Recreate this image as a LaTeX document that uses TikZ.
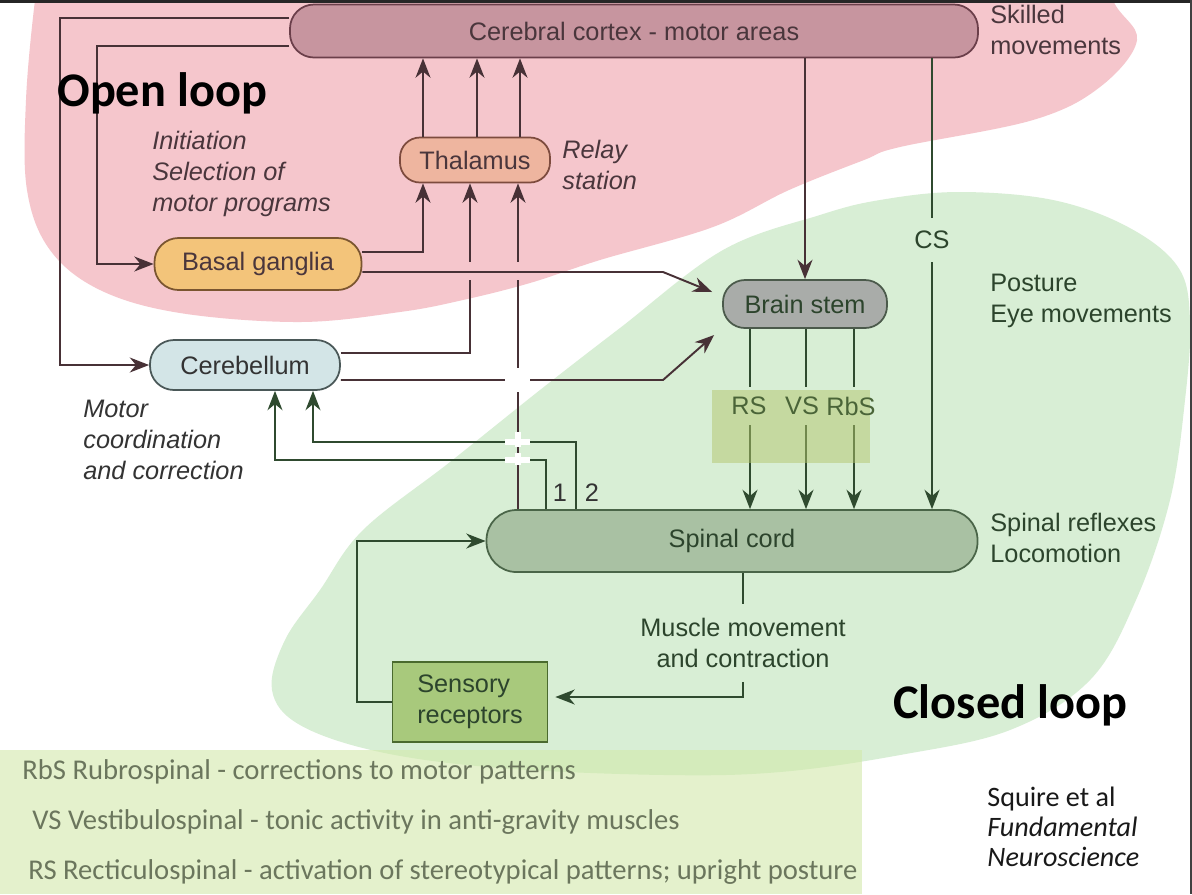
\documentclass[tikz,border=0pt]{standalone}
\usepackage{fontspec}
\setmainfont{Liberation Sans}
\newfontfamily\slidefont{Carlito}
\usetikzlibrary{positioning}
\usetikzlibrary{arrows.meta}

\pgfdeclarelayer{front}
\pgfsetlayers{main,front}

\newdimen\pix
\pix=0.02cm

\definecolor{pinkblob}{HTML}{F5C6CC}
\definecolor{greenblob}{HTML}{D8EED5}
\definecolor{legendfill}{HTML}{D2E9AA}
\definecolor{legendtext}{HTML}{6B765D}
\definecolor{tracthl}{HTML}{B4C66C}
\definecolor{tracttext}{HTML}{4A6438}
\definecolor{linkdark}{HTML}{473136}
\definecolor{linkgreen}{HTML}{2F4A2F}
\definecolor{cortexfill}{HTML}{C7959F}
\definecolor{cortexline}{HTML}{6B3F4A}
\definecolor{thalfill}{HTML}{EEB59F}
\definecolor{thalline}{HTML}{7D4B3E}
\definecolor{basalfill}{HTML}{F3C47A}
\definecolor{basalline}{HTML}{7A5530}
\definecolor{cerebfill}{HTML}{D3E5E7}
\definecolor{cerebline}{HTML}{4A5858}
\definecolor{stemfill}{HTML}{A9ACA9}
\definecolor{stemline}{HTML}{4B5A4B}
\definecolor{spinalfill}{HTML}{A9C1A3}
\definecolor{spinalline}{HTML}{4A6548}
\definecolor{sensfill}{HTML}{A8C97C}
\definecolor{sensline}{HTML}{4A6A2E}
\definecolor{pinktext}{HTML}{4A363C}
\definecolor{greentext}{HTML}{2C442C}

\begin{document}
\begin{tikzpicture}[
	x=0.02cm, y=-0.02cm,
	organ/.style={draw, line width=1pt, inner sep=0pt, font=\fontsize{14.4}{17.6}\selectfont},
	note/.style={inner sep=0pt, align=left, font=\fontsize{14.4}{17.6}\selectfont},
	tract/.style={inner sep=0pt, minimum height=38\pix, text=tracttext, font=\fontsize{14.4}{17.6}\selectfont},
	slidehead/.style={inner sep=0pt, font=\slidefont\fontsize{27.5}{33}\selectfont\bfseries},
	legend/.style={inner sep=0pt, anchor=west, text=legendtext, font=\slidefont\fontsize{16.3}{19}\selectfont},
	link/.style={line width=1.1pt, draw=#1},
	link/.default=linkdark,
	arr/.style={-{Stealth[length=11pt,width=8.5pt,inset=3.5pt]}}
	]
	\useasboundingbox (0,0) rectangle (1192,894);
	\fill[white] (0,0) rectangle (1192,894);
	
	% Regions
	\begin{scope}
		\clip (0,0) rectangle (1192,894);
		\fill[pinkblob] plot[smooth cycle, tension=0.6] coordinates {(45,-60) (35,0) (26,100) (27,190) (50,250) (100,290) (180,313) (300,322) (400,312) (463,300) (530,283) (600,260) (713,227) (789,190) (864,160) (900,147) (1033,120) (1100,87) (1137,40) (1113,0) (1100,-60) (600,-80)};
		\fill[greenblob] plot[smooth cycle, tension=0.6] coordinates {(959,192) (1053,200) (1128,227) (1178,267) (1190,320) (1185,400) (1170,500) (1136,600) (1090,680) (1010,730) (900,755) (780,772) (665,775) (500,768) (380,752) (300,725) (272,690) (285,640) (320,590) (363,530) (450,462) (540,390) (620,328) (723,250) (820,215) (880,200)};
		\fill[legendfill, opacity=0.6] (0,750) rectangle (862,894);
		\fill[black!85] (0,0) rectangle (1192,3);
		\fill[black!75] (1190,0) rectangle (1192,894);
	\end{scope}
	
	% Nodes
	\node[organ, fill=cortexfill, draw=cortexline, text=pinktext, minimum width=688\pix, minimum height=53\pix, rounded corners=24\pix] (cortex) at (634,31) {Cerebral cortex - motor areas};
	\node[organ, fill=thalfill, draw=thalline, text=pinktext, minimum width=150\pix, minimum height=45\pix, rounded corners=20\pix] (thalamus) at (475,160) {Thalamus};
	\node[organ, fill=basalfill, draw=basalline, text=pinktext, minimum width=207\pix, minimum height=52\pix, rounded corners=24\pix] (basal) at (258,264) {Basal ganglia};
	\node[organ, fill=cerebfill, draw=cerebline, text=black!80, minimum width=190\pix, minimum height=50\pix, rounded corners=24\pix] (cerebellum) at (245,365) {Cerebellum};
	\node[organ, fill=stemfill, draw=stemline, text=greentext, minimum width=164\pix, minimum height=48\pix, rounded corners=22\pix] (brainstem) at (805,304) {Brain stem};
	\node[organ, fill=spinalfill, draw=spinalline, text=greentext, minimum width=491\pix, minimum height=62\pix, rounded corners=30\pix] (spinal) at (732,541) {Spinal cord};
	\node[organ, fill=sensfill, draw=sensline, text=greentext, align=left, minimum width=155\pix, minimum height=80\pix] (sensory) at (470,702) {Sensory\\receptors};
	
	% Texts
	\node[note, anchor=west, text=pinktext] (skilled) at (990,30) {Skilled\\movements};
	\node[note, anchor=west, text=pinktext, font=\fontsize{14.4}{17.6}\selectfont\itshape] (initiation) at (152,174) {Initiation\\Selection of\\motor programs};
	\node[note, anchor=west, text=pinktext, font=\fontsize{14.4}{17.6}\selectfont\itshape] (relay) at (562,165) {Relay\\station};
	\node[note, anchor=west, text=black!80, font=\fontsize{14.4}{17.6}\selectfont\itshape] (coordination) at (83,440) {Motor\\coordination\\and correction};
	\node[note, anchor=west, text=greentext] (posture) at (990,301) {Posture\\Eye movements};
	\node[note, anchor=west, text=greentext] (reflexes) at (990,538) {Spinal reflexes\\Locomotion};
	\node[note, align=center, text=greentext, minimum height=77\pix] (muscle) at (743,643) {Muscle movement\\and contraction};
	\node[note, text=black!80] (one) at (560,493) {1};
	\node[note, text=black!80] (two) at (592,493) {2};
	\node[tract, text=greentext, minimum height=44\pix] (cs) at (932,240) {CS};
	\begin{pgfonlayer}{front}
		\node[tract] (rs) at (749,406) {RS};
		\node[tract] (vs) at (802,406) {VS};
		\node[tract] (rbs) at (851,406) {RbS};
	\end{pgfonlayer}
	
	% Edges from cortex
	\draw[link, arr] ([yshift=13\pix]cortex.west) -| (60,365) -- (cerebellum.west);
	\draw[link, arr] ([yshift=-15\pix]cortex.west) -| (97,264) -- (basal.west);
	\foreach \x in {423,477,520}
		\draw[link, arr] (\x,0 |- thalamus.north) -- (\x,0 |- cortex.south);
	
	% Edges to thalamus
	\draw[link, arr] ([yshift=12\pix]basal.east) -| (423,0 |- thalamus.south);
	\draw[link, arr] ([yshift=12\pix]cerebellum.east) -| (470,0 |- thalamus.south);
	\draw[link, arr] (518,0 |- spinal.north) -- (518,0 |- thalamus.south);
	\foreach \x in {470,518}
		\fill[pinkblob] (\x-3,262) rectangle (\x+3,280);
	
	% Edges to brain stem
	\draw[link, arr] ([yshift=-8\pix]basal.east) -- (663,272) -- ([xshift=-10\pix,yshift=12\pix]brainstem.west);
	\draw[link, arr] ([yshift=-15\pix]cerebellum.east) -- (663,380) -- ([xshift=-8\pix,yshift=-31\pix]brainstem.west);
	\draw[link, arr] (805,0 |- cortex.south) -- (brainstem.north);
	
	% Feedback to cerebellum
	\draw[link=linkgreen, arr] (546,0 |- spinal.north) |- (275,460) -- (275,0 |- cerebellum.south);
	\draw[link=linkgreen, arr] (576,0 |- spinal.north) |- (313,442) -- (313,0 |- cerebellum.south);
	\foreach \y/\a/\b in {380/368/392, 442/432/447, 460/453/465} {
		\fill[white] (505,\y-3) rectangle (530,\y+3);
		\fill[white] (515,\a) rectangle (521,\b);
	}
	
	% Descending tracts
	\draw[link=linkgreen] (cs.north |- cortex.south) -- (cs.north);
	\draw[link=linkgreen, arr] (cs.south) -- (cs.south |- spinal.north);
	\foreach \tr/\x in {rs/750, vs/806, rbs/854} {
		\draw[link=linkgreen] (\x,0 |- brainstem.south) -- (\x,0 |- \tr.north);
		\draw[link=linkgreen, arr] (\x,0 |- \tr.south) -- (\x,0 |- spinal.north);
	}
	\fill[tracthl, opacity=0.5] (712,390) rectangle (870,463);
	
	% Motor output and sensory feedback
	\draw[link=linkgreen] (muscle.north |- spinal.south) -- (muscle.north);
	\draw[link=linkgreen, arr] (muscle.south) |- ([xshift=7\pix,yshift=5\pix]sensory.east);
	\draw[link=linkgreen, arr] (sensory.west) -| (357,541) -- (spinal.west);
	
	% Slide texts
	\node[slidehead, anchor=west] (openloop) at (57,93) {Open loop};
	\node[slidehead, anchor=west] (closedloop) at (893,705) {Closed loop};
	\node[legend] (rbsnote) at (22,772) {RbS Rubrospinal - corrections to motor patterns};
	\node[legend] (vsnote) at (32,822) {VS Vestibulospinal - tonic activity in anti-gravity muscles};
	\node[legend] (rsnote) at (28,872) {RS Recticulospinal - activation of stereotypical patterns; upright posture};
	\node[inner sep=0pt, anchor=west, align=left, text=black!90, font=\slidefont\fontsize{16}{17}\selectfont] (source) at (987,827) {Squire et al\\\textit{Fundamental}\\\textit{Neuroscience}};
\end{tikzpicture}
\end{document}
